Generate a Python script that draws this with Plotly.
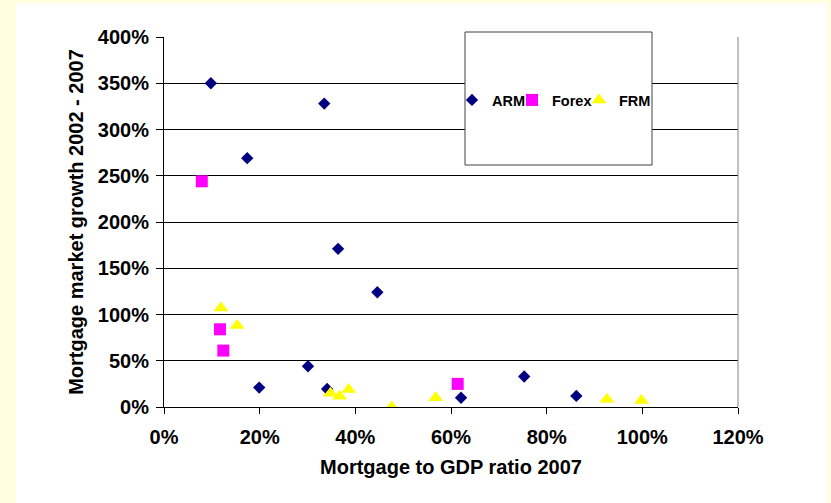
import plotly.graph_objects as go

# Mortgage market: ratio to GDP in 2007 (x) vs growth 2002-2007 (y), by dominant mortgage type
arm_ratio = [0.098, 0.335, 0.174, 0.364, 0.446, 0.301, 0.199, 0.341, 0.621, 0.753, 0.862]
arm_growth = [3.50, 3.28, 2.69, 1.71, 1.24, 0.44, 0.21, 0.195, 0.10, 0.33, 0.12]

forex_ratio = [0.079, 0.117, 0.124, 0.614]
forex_growth = [2.44, 0.84, 0.61, 0.25]

frm_ratio = [0.119, 0.153, 0.348, 0.367, 0.386, 0.476, 0.568, 0.926, 0.998]
frm_growth = [1.07, 0.88, 0.15, 0.115, 0.19, 0.00, 0.10, 0.083, 0.07]

x_ticks = [0, 0.2, 0.4, 0.6, 0.8, 1.0, 1.2]
y_ticks = [0, 0.5, 1.0, 1.5, 2.0, 2.5, 3.0, 3.5, 4.0]

FONT = "Liberation Sans, Arial, sans-serif"
BOLD = dict(family=FONT, weight="bold", color="black")

fig = go.Figure()
fig.add_trace(go.Scatter(
    x=arm_ratio, y=arm_growth, mode="markers", name="ARM", legend="legend",
    marker=dict(symbol="diamond", size=9.5, color="#000080"),
))
fig.add_trace(go.Scatter(
    x=forex_ratio, y=forex_growth, mode="markers", name="Forex", legend="legend2",
    marker=dict(symbol="square", size=12, color="#FF00FF"),
))
fig.add_trace(go.Scatter(
    x=frm_ratio, y=frm_growth, mode="markers", name="FRM", legend="legend3",
    marker=dict(symbol="triangle-up", size=13, color="#FFFF00"),
))

L, R, T, B = 164, 93, 37, 96
W, H = 831, 503
pw, ph = W - L - R, H - T - B


def px_x(p):
    return (p - L) / pw


def px_y(p):
    return (H - B - p) / ph


def key_entry(symbol_px):
    # one-entry legend whose swatch sits at the given horizontal pixel
    return dict(
        orientation="h", x=px_x(symbol_px - 20), y=px_y(100),
        xanchor="left", yanchor="middle",
        bgcolor="rgba(0,0,0,0)", borderwidth=0,
        font=dict(size=14.5, **BOLD), itemwidth=30,
    )


fig.update_layout(
    width=W, height=H,
    margin=dict(l=L, r=R, t=T, b=B, autoexpand=False),
    paper_bgcolor="#FFFFE0",
    plot_bgcolor="white",
    font=dict(size=20, **BOLD),
    showlegend=True,
    legend=key_entry(472),
    legend2=key_entry(532),
    legend3=key_entry(599),
    shapes=[
        # white chart panel on the pale yellow page
        dict(type="rect", xref="paper", yref="paper",
             x0=px_x(16), x1=px_x(827), y0=px_y(503), y1=px_y(3),
             fillcolor="white", line=dict(width=0), layer="below"),
        # right border of the plotting area
        dict(type="line", xref="paper", yref="paper",
             x0=1, x1=1, y0=0, y1=1,
             line=dict(color="#808080", width=1), layer="above"),
        # legend frame
        dict(type="rect", xref="paper", yref="paper",
             x0=px_x(465), x1=px_x(652), y0=px_y(165), y1=px_y(32),
             fillcolor="white", line=dict(color="#404040", width=1), layer="above"),
    ],
)

fig.update_xaxes(
    range=[0, 1.2], tickvals=x_ticks, tickformat=".0%",
    showgrid=False, zeroline=False,
    showline=True, linecolor="black", linewidth=1,
    ticks="outside", ticklen=6, tickcolor="black",
    ticklabelstandoff=6,
    tickfont=dict(size=20, **BOLD),
    title=dict(text="Mortgage to GDP ratio 2007", standoff=12,
               font=dict(size=20, **BOLD)),
    automargin=False, fixedrange=True,
)
fig.update_yaxes(
    range=[0, 4.0], tickvals=y_ticks, tickformat=".0%",
    showgrid=True, gridcolor="black", gridwidth=1,
    zeroline=False,
    showline=True, linecolor="black", linewidth=1,
    ticks="outside", ticklen=7, tickcolor="black",
    ticklabelstandoff=3,
    tickfont=dict(size=20, **BOLD),
    title=dict(text="Mortgage market growth 2002 - 2007", standoff=8,
               font=dict(size=20, **BOLD)),
    automargin=False, fixedrange=True,
)

fig.write_html("out.html")
